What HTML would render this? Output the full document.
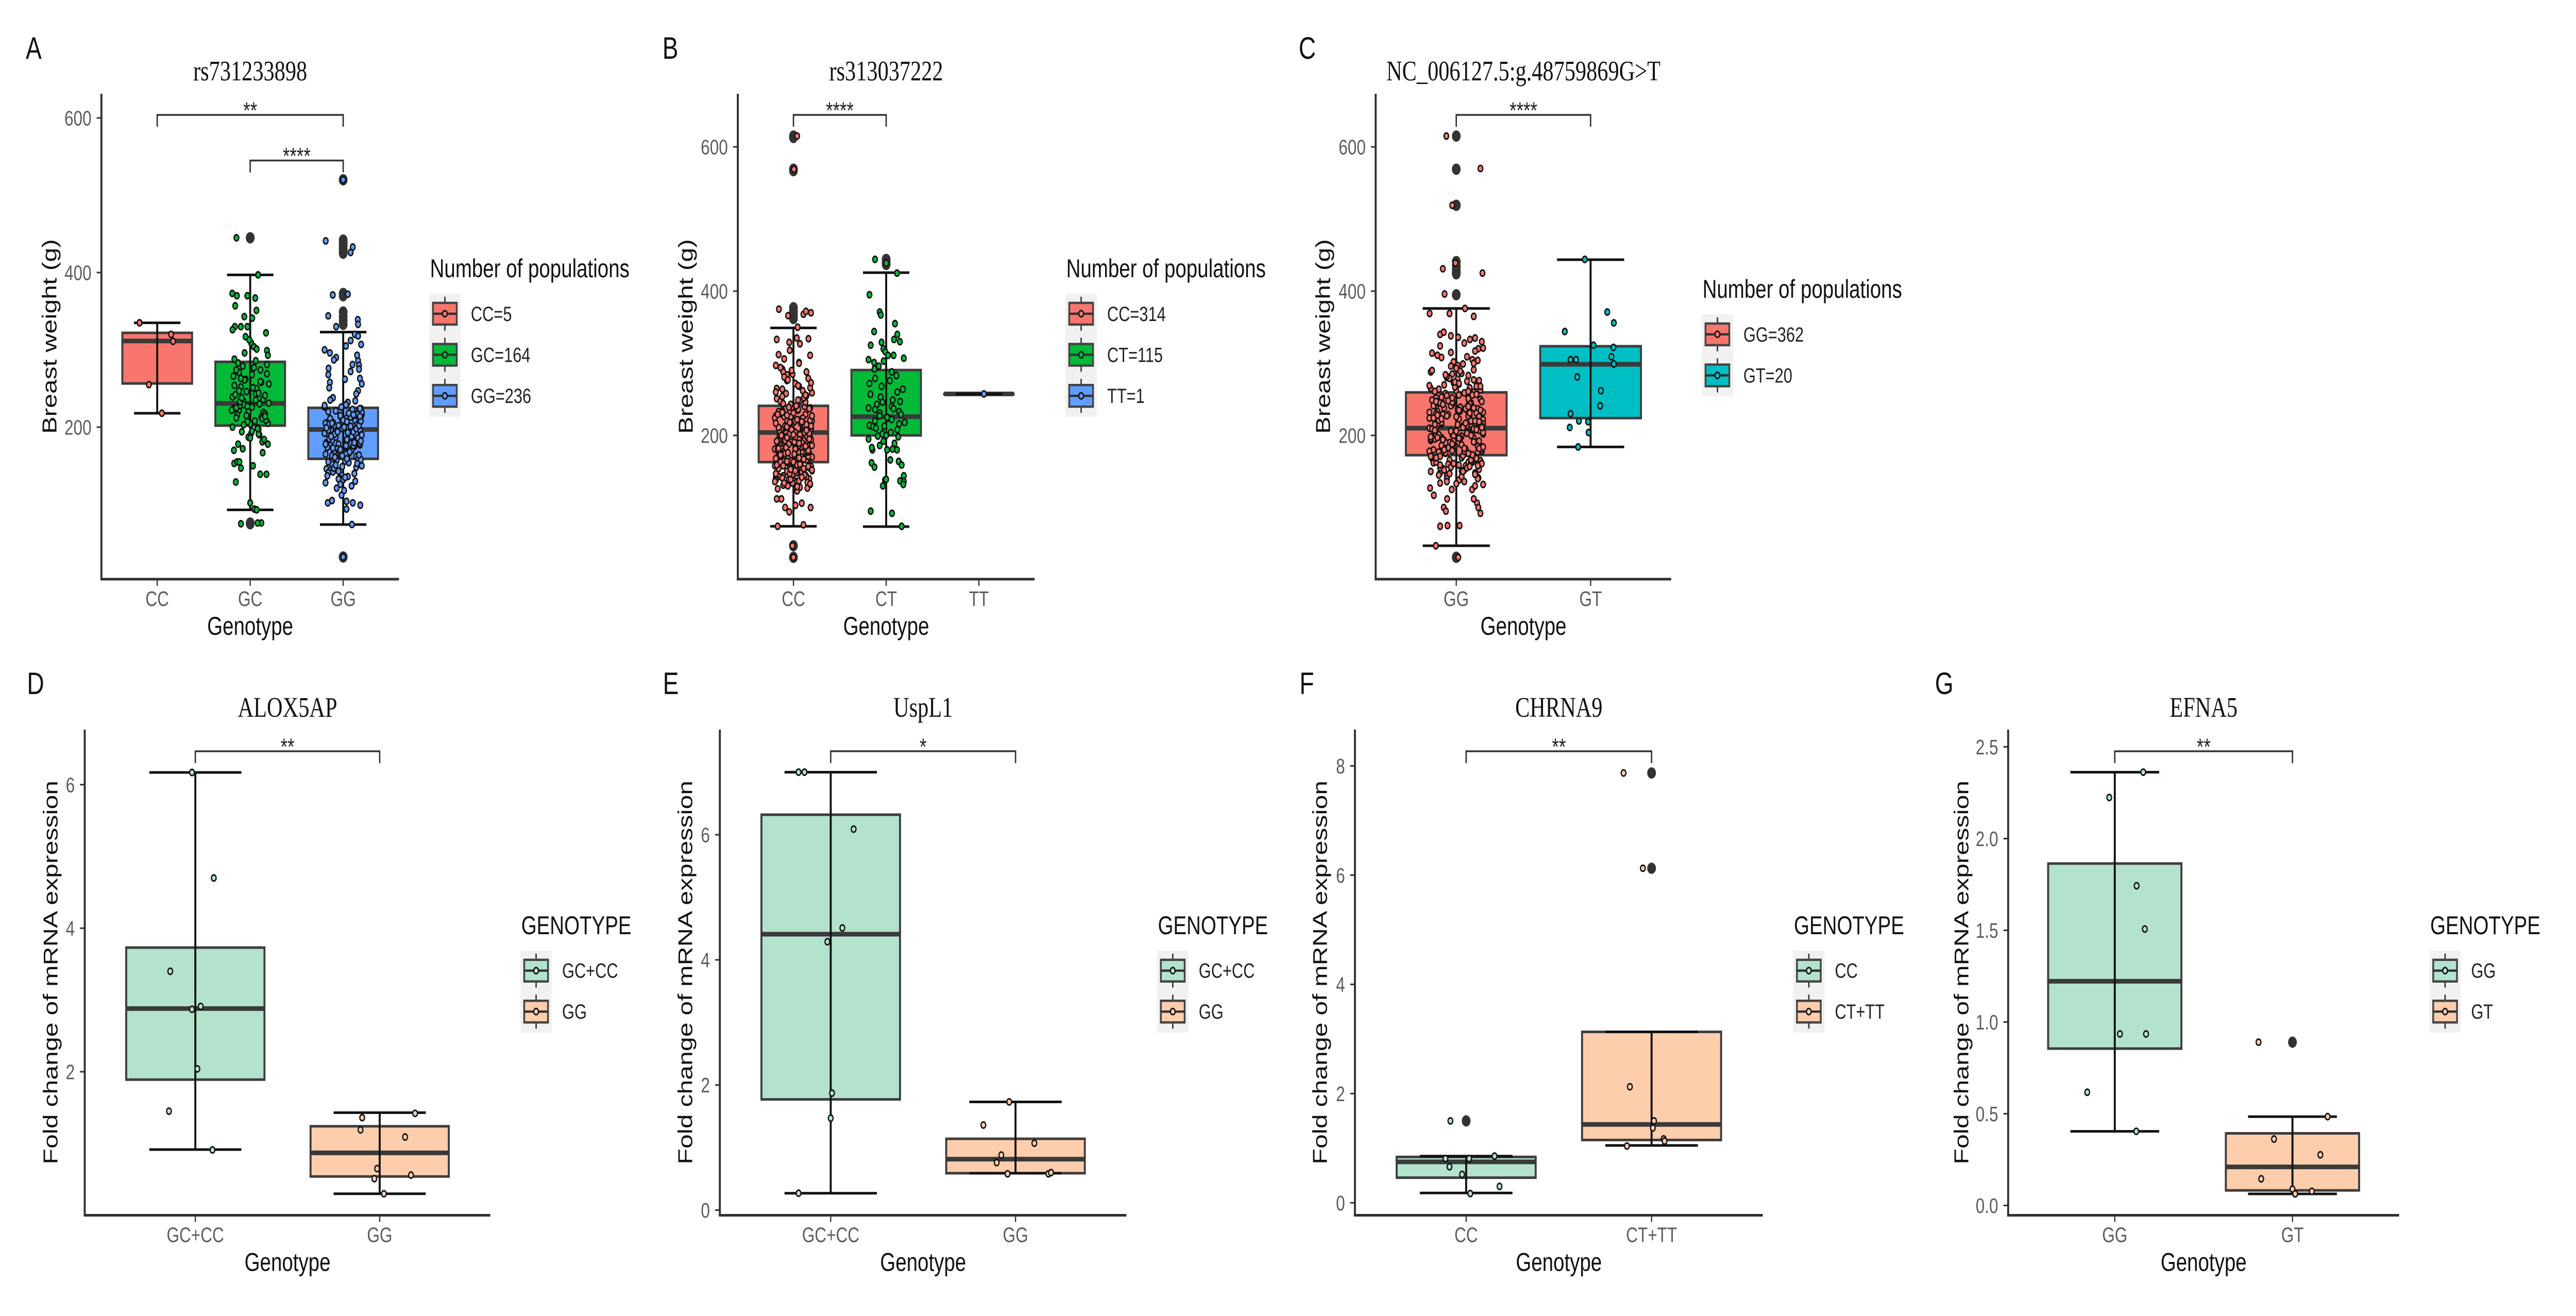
<!DOCTYPE html>
<html lang="en">
<head>
<meta charset="utf-8">
<title>Genotype association box plots</title>
<style>
html,body{margin:0;padding:0;background:#fff;width:100%;height:100%;overflow:hidden}
svg{display:block;width:100vw;height:100vh;font-family:"Liberation Sans",sans-serif}
</style>
</head>
<body>
<svg id="figure" xmlns="http://www.w3.org/2000/svg" viewBox="0 0 6494 2554" preserveAspectRatio="none">
<rect x="0" y="0" width="6494" height="2554" fill="#ffffff"/>
</svg>
<script>
/* shared jitter pool: horizontal jitter in category units for dense clouds */
const jitterPool=[.13,-.07,.19,-.16,.02,.11,-.19,.06,-.03,.17,-.12,.09,-.05,.2,-.15,.01,.14,-.09,.04,-.18,.16,-.01,-.14,.08,.18,-.11,.03,-.06,.12,-.2,.07,-.02,.15,-.17,.05,-.1,.19,-.04,.1,-.13,0,.17,-.08,.13,-.16,.06,-.19,.02,.11,-.03,.2,-.12,.09,-.15,.04,-.07,.16,-.18,.01,.14,-.05,.08,-.11,.18,-.02,-.14,.12,-.09,.05,-.17,.15,.03,-.06,.1,-.2,.07,-.13,.19,-.04,0,.17,-.1,.13,-.16,.06,-.08,.11,-.19,.02,.2,-.12,.09,-.03,.14,-.15,.04,-.07,.18,-.01,.16,-.11];

/* Panel A: rs731233898 */
const aCategories=['CC','GC','GG'];
const aYTicks=[200,400,600];
const aYTickLabels=['200','400','600'];
const aQ1=[256.5,202,159];
const aMedian=[311.5,230.7,197];
const aQ3=[322,284.5,225];
const aWhiskerLow=[218,93,74];
const aWhiskerHigh=[335,397,323];
const aOutliers=[[],[445,445,76,75],[520,520,442,438,435,431,428,425,373,370,349,343,338,333,32,32]];
const aLegendLabels=['CC=5','GC=164','GG=236'];
const aJitter=[
[-.19,.15,.17,-.09,.05],
[-.148,.085,-.193,-.143,-.031,.054,-.161,.067,-.063,.022,-.165,-.03,-.1,-.172,-.14,.134,-.175,-.116,.03,.108,-.1,.175,-.155,.0,.045,.07,.12,-.1,.08,.19],
[0,-.188,.103,.08,.05,-.112,-.161,.157,.16,-.076,.125,.193,-.143,-.076,.16,.17,-.157,.08,-.143,.18,-.166,-.12,-.018,.036,.103,.184,.036,.094,0]
];
const aValuesCC=[335,320,311,255,218];
const aValuesGC=[445,397,373,370,370,367,357,351,343,341,330,330,330,153,155,167,170,155,150,139,147,139,129,102,94,93,76,75,76,178,
326,322,317,309,304,313,299,296,301,288,293,283,279,286,274,271,277,266,262,269,258,254,261,250,246,252,243,239,247,236,233,241,229,226,235,222,231,219,224,216,228,213,220,208,215,204,211,200,207,197,203,192,199,187,194,183,190,178,186,181,172,
268,244,212,281,233,205,259,227,191,274,238,217,198,251,222,184,263,230,209,242,195,256,225,214];
const aValuesGG=[520,441,433,426,372,371,344,339,333,330,320,307,296,290,286,280,276,272,258,263,102,105,112,104,102,99,94,74,32,
318,312,305,300,293,287,281,275,268,262,256,251,247,243,238,235,232,229,226,224,222,220,218,216,214,212,210,208,207,205,204,202,201,199,198,196,195,193,192,190,189,187,186,184,183,181,180,178,177,175,174,172,171,169,168,166,165,163,162,160,159,157,156,154,152,150,148,146,144,142,140,138,136,134,132,130,128,126,124,121,118,
213,226,191,203,174,197,209,182,221,167,188,200,179,206,158,194,215,170,185,161,217,201,176,192,153,147,223,164,141,135,
219,204,186,198,173,211,193,165,228,182,202,155,216,190,171,207,149,234,196,178,212,143,200,184,163,224,194,168,137,208,188,151,218,176,205,159,199,133,214,180];

/* Panel B: rs313037222 */
const bCategories=['CC','CT','TT'];
const bYTicks=[200,400,600];
const bYTickLabels=['200','400','600'];
const bQ1=[163,200,257.5];
const bMedian=[204,226,257.5];
const bQ3=[241,290.6,257.5];
const bWhiskerLow=[74,73.6,257.5];
const bWhiskerHigh=[349,425.6,257.5];
const bOutliers=[[615,613,569,567,377,372,368,362,47,31,31],[444,440,437],[]];
const bLegendLabels=['CC=314','CT=115','TT=1'];
const bJitter=[
[.04,.005,-.157,.108,.135,.189,-.058,.045,-.18,.162,.036,-.045,-.16,.18,-.18,-.13,-.09,-.045,.09,.185,.022,-.17,.108,-.01,0],
[-.12,0,.117,-.18,-.07,-.058,.095,-.13,.12,.085,.148,-.167,-.05,-.03,-.01,.08,.02,-.19,.19,-.126,-.027,-.148,-.155,.01,.068,.117,.045,.135,.167,-.158,-.126,-.013,-.036,0,.19,.15,.19,.185,-.167,.063,.167],
[.054]
];
const bValuesCC=[615,569,375,368,372,370,366,350,333,334,335,329,312,311,112,112,100,94,106,100,103,74,76,47,31,
327,318,306,301,297,292,288,284,279,276,272,268,264,259,255,251,247,244,240,238,235,233,231,229,227,225,223,221,219,217,215,213,211,209,208,206,205,203,202,200,199,197,196,194,193,191,190,188,187,185,184,182,181,179,178,176,175,173,172,170,169,167,166,164,163,161,160,158,157,155,154,152,151,149,148,146,145,143,142,140,139,137,136,134,132,130,128,126,
216,230,198,186,207,174,222,192,161,238,210,180,168,201,155,226,194,147,234,183,212,171,150,204,189,141,220,177,159,196,144,214,165,236,202,153,184,138,218,170,228,191,156,208,175,135,224,199,163,246,258,181,149,205,266,
288,273,252,243,219,206,193,177,162,148,136,127,281,262,237,211,198,186,171,157,143,131,294,269,241,224,209,195,182,167,152,139,123,285,256,233,217,203,188,174,159,146,133,277,248,229,213,200,183,169,154,141,129,265,239,221,204,190,176,160,147,134,300,260,232,215,197,179,164,151,137,254,227,207,192,173,158,145,290,249,218,201,185,168,153,142];
const bValuesCT=[444,439,425,395,371,367,355,344,340,333,330,325,329,320,316,311,311,305,307,292,303,180,183,180,181,180,166,164,159,162,156,138,130,139,144,137,136,132,95,92,74,
301,296,288,283,279,276,272,268,264,260,257,253,249,246,243,240,238,236,233,231,229,227,224,222,220,218,216,214,212,210,208,206,204,202,200,198,195,192,189,186,225,237,213,199,247];
const bValuesTT=[257.5];

/* Panel C: NC_006127.5:g.48759869G>T */
const cCategories=['GG','GT'];
const cYTicks=[200,400,600];
const cYTickLabels=['200','400','600'];
const cQ1=[172.6,224];
const cMedian=[210,298.6];
const cQ3=[259.6,323.6];
const cWhiskerLow=[47,184];
const cWhiskerHigh=[376,443.6];
const cOutliers=[[615,569,519,519,441,435,430,426,424,395,31,31],[]];
const cLegendLabels=['GG=362','GT=20'];
const cJitter=[
[-.074,.18,-.03,-.1,.195,-.006,-.087,.065,-.198,-.05,.13,-.12,-.093,-.04,.015,.102,.14,.19,.164,.13,.155,.164,.18,-.068,-.093,-.077,-.12,-.065,.025,-.152,.015,-.167,-.195,-.034,.118,.165],
[-.192,.124,.173,.022,.17,.155,.173,-.149,-.108,-.099,.077,.071,-.149,-.087,-.019,-.155,-.015,-.093,-.043]
];
const cValuesGG=[615,570,519,431,425,439,396,376,369,369,365,340,343,338,336,333,335,330,320,112,106,100,92,112,100,95,74,75,75,47,31,117,127,125,125,141,
328,324,321,317,314,311,308,305,302,299,296,293,291,288,285,283,280,278,275,273,270,268,266,264,262,260,258,256,254,252,250,248,247,245,243,242,240,238,237,235,234,232,231,229,228,226,225,223,222,220,219,217,216,214,213,211,210,208,207,205,204,202,201,199,198,196,195,193,192,190,189,187,186,184,183,181,180,178,177,175,174,172,171,169,168,166,165,163,162,160,158,156,154,152,150,148,146,144,142,140,138,136,134,132,130,
249,233,218,203,188,172,241,226,209,195,179,163,255,236,214,199,183,167,244,221,206,191,176,159,251,230,212,197,181,164,246,227,210,193,177,155,239,224,208,194,174,153,261,235,216,200,185,170,253,228,211,196,178,161,276,243,220,204,187,151,267,238,215,198,182,147,
297,286,274,263,248,237,224,213,201,190,178,166,155,143,290,279,268,256,241,229,217,206,194,182,171,159,148,136,304,282,271,259,245,232,220,209,197,186,173,161,150,315,293,277,265,252,240,227,215,203,192,180,168,157,145,133,300,284,272,261,247,235,223,211,200,188,175,163,152,140,309,289,269,257,243,231,219,207,196,184,169,158,146];
const cValuesGT=[344,371,356,325,322,309,299,305,305,281,262,241,230,220,219,211,204,184,444];

/* Panel D: ALOX5AP */
const dCategories=['GC+CC','GG'];
const dYTicks=[2,4,6];
const dYTickLabels=['2','4','6'];
const dQ1=[1.89,.54];
const dMedian=[2.88,.87];
const dQ3=[3.73,1.24];
const dWhiskerLow=[.915,.30];
const dWhiskerHigh=[6.17,1.43];
const dOutliers=[[],[]];
const dLegendLabels=['GC+CC','GG'];
const dJitter=[[-.018,.1,-.136,-.018,.029,.011,-.143,.093],[.192,-.095,-.104,.138,-.014,.17,-.029,.023]];
const dValuesA=[6.17,4.70,3.40,2.87,2.91,2.04,1.45,.91];
const dValuesB=[1.42,1.36,1.19,1.09,.65,.56,.51,.30];

/* Panel E: UspL1 */
const eCategories=['GC+CC','GG'];
const eYTicks=[0,2,4,6];
const eYTickLabels=['0','2','4','6'];
const eQ1=[1.77,.59];
const eMedian=[4.41,.815];
const eQ3=[6.32,1.14];
const eWhiskerLow=[.27,.59];
const eWhiskerHigh=[7.0,1.73];
const eOutliers=[[],[]];
const eLegendLabels=['GC+CC','GG'];
const eJitter=[[-.174,-.142,.124,.063,-.018,.007,0,-.174],[-.034,-.174,.102,-.077,-.102,-.043,.178,.192]];
const eValuesA=[7.0,7.0,6.09,4.51,4.29,1.87,1.47,.27];
const eValuesB=[1.73,1.36,1.07,.88,.76,.58,.58,.60];

/* Panel F: CHRNA9 */
const fCategories=['CC','CT+TT'];
const fYTicks=[0,2,4,6,8];
const fYTickLabels=['0','2','4','6','8'];
const fQ1=[.46,1.15];
const fMedian=[.75,1.435];
const fQ3=[.84,3.13];
const fWhiskerLow=[.18,1.05];
const fWhiskerHigh=[.855,3.13];
const fOutliers=[[1.5],[7.87,6.125]];
const fLegendLabels=['CC','CT+TT'];
const fJitter=[[-.085,-.112,.016,.153,-.09,-.022,.18,.022],[-.151,-.047,-.117,.013,.007,.065,.07,-.133]];
const fValuesA=[1.5,.81,.81,.855,.66,.52,.30,.17];
const fValuesB=[7.87,6.125,2.125,1.5,1.37,1.17,1.13,1.04];

/* Panel G: EFNA5 */
const gCategories=['GG','GT'];
const gYTicks=[0,.5,1,1.5,2,2.5];
const gYTickLabels=['0.0','0.5','1.0','1.5','2.0','2.5'];
const gQ1=[.855,.082];
const gMedian=[1.222,.21];
const gQ3=[1.864,.393];
const gWhiskerLow=[.404,.063];
const gWhiskerHigh=[2.362,.484];
const gOutliers=[[],[.89]];
const gLegendLabels=['GG','GT'];
const gJitter=[[.16,-.031,.123,.169,.029,.176,-.155,.121],[-.191,.198,-.104,.157,-.176,0,.109,.015]];
const gValuesA=[2.362,2.224,1.743,1.507,.935,.935,.617,.404];
const gValuesB=[.89,.484,.362,.276,.145,.089,.077,.063];

const NS='http://www.w3.org/2000/svg';
const figure=document.getElementById('figure');
const INK='#2f2f2f';

function mk(tag,attrs,parent){
  const el=document.createElementNS(NS,tag);
  for(const k in attrs){el.setAttribute(k,attrs[k]);}
  parent.appendChild(el);
  return el;
}
function lbl(parent,str,x,y,size,fill,anchor,rot,family){
  const attrs={x:x,y:y,'font-size':size,fill:fill,'text-anchor':anchor||'start'};
  if(rot){attrs.transform='rotate(-90 '+x+' '+y+')';}
  if(family){attrs['font-family']=family;}
  const t=mk('text',attrs,parent);
  t.textContent=str;
  return t;
}
function makeYScale(domain,top,bottom){
  return function(v){return bottom-(v-domain[0])/(domain[1]-domain[0])*(bottom-top);};
}
function makeXScale(n,left,right){
  const step=(right-left)/(n-1+1.2);
  const fn=function(i){return left+.6*step+i*step;};
  fn.step=step;
  return fn;
}

function drawPanel(p){
  const g=mk('g',{},figure);
  
  
  const y=makeYScale(p.yDomain,p.top,p.bottom);
  const x=makeXScale(p.categories.length,p.left,p.right);
  const mid=(p.left+p.right)/2;

  const letter=lbl(g,p.letter,p.letterX,p.letterY,60,'#111');
  
  

  const title=lbl(g,p.title,mid,p.titleY,55,'#111','middle',false,'"Liberation Serif",serif');
  
  

  /* boxes, outliers, whiskers, points */
  p.categories.forEach(function(cat,i){
    const cx=x(i),hb=.375*x.step,hc=.25*x.step;
    const group=mk('g',{},g);
    
    

    const box=mk('rect',{x:cx-hb,y:y(p.q3[i]),width:2*hb,height:Math.max(y(p.q1[i])-y(p.q3[i]),.5),fill:p.colors[i],stroke:'#3d3d3d','stroke-width':5},group);
    
    

    const med=mk('line',{x1:cx-hb,x2:cx+hb,y1:y(p.median[i]),y2:y(p.median[i]),stroke:'#3a3a3a','stroke-width':9},group);
    
    

    p.outliers[i].forEach(function(v){
      const o=mk('circle',{cx:cx,cy:y(v),r:11,fill:'#333333'},group);
      
      
    });

    const stem=mk('line',{x1:cx,x2:cx,y1:y(p.whiskerHigh[i]),y2:y(p.whiskerLow[i]),stroke:'#111','stroke-width':5},group);
    
    

    const capHigh=mk('line',{x1:cx-hc,x2:cx+hc,y1:y(p.whiskerHigh[i]),y2:y(p.whiskerHigh[i]),stroke:'#111','stroke-width':5},group);
    
    

    const capLow=mk('line',{x1:cx-hc,x2:cx+hc,y1:y(p.whiskerLow[i]),y2:y(p.whiskerLow[i]),stroke:'#111','stroke-width':5},group);
    
    

    const jit=p.jitter[i];
    p.points[i].forEach(function(v,k){
      const j=k<jit.length?jit[k]:jitterPool[(k*3+i*17)%jitterPool.length];
      const c=mk('circle',{cx:cx+j*x.step,cy:y(v),r:6,fill:p.colors[i],stroke:'#111','stroke-width':3},group);
      
      
    });
  });

  /* axes */
  const yAxis=mk('line',{x1:p.left,x2:p.left,y1:p.top,y2:p.bottom+2.5,stroke:INK,'stroke-width':5},g);
  
  

  const xAxis=mk('line',{x1:p.left-2.5,x2:p.right,y1:p.bottom,y2:p.bottom,stroke:INK,'stroke-width':5},g);
  
  

  p.yTicks.forEach(function(v,i){
    const t=mk('line',{x1:p.left-12,x2:p.left,y1:y(v),y2:y(v),stroke:INK,'stroke-width':3},g);
    
    
    const l=lbl(g,p.yTickLabels[i],p.left-25,y(v)+14.5,41,'#5c5c5c','end');
    
    
  });
  p.categories.forEach(function(cat,i){
    const t=mk('line',{x1:x(i),x2:x(i),y1:p.bottom,y2:p.bottom+13,stroke:INK,'stroke-width':3},g);
    
    
    const l=lbl(g,cat,x(i),p.bottom+52,41,'#5c5c5c','middle');
    
    
  });

  const yTitle=lbl(g,p.yTitle,p.yTitleX,(p.top+p.bottom)/2,50,'#111','middle',true);
  
  

  const xTitle=lbl(g,'Genotype',mid,p.bottom+108,50,'#111','middle');
  
  

  /* significance brackets */
  p.brackets.forEach(function(b){
    const bx1=x(b.from),bx2=x(b.to),by=y(b.value);
    const path=mk('path',{d:'M'+bx1+' '+(by+23)+'V'+by+'H'+bx2+'V'+(by+23),fill:'none',stroke:'#333','stroke-width':3.5},g);
    
    
    const s=lbl(g,b.label,(bx1+bx2)/2,by+7,45,'#222','middle');
    
    
  });

  /* legend */
  const lg=mk('g',{},g);
  
  
  const lt=lbl(lg,p.legendTitle,p.legendX+2,p.legendTop-32,50,'#111');
  
  
  p.legendLabels.forEach(function(label,i){
    const top=p.legendTop+i*p.legendRow,cx=p.legendX+39.5,cy=top+p.legendRow/2-1;
    const entry=mk('g',{},lg);
    
    
    const bg=mk('rect',{x:p.legendX,y:top,width:79,height:p.legendRow,fill:'#f1f1f1'},entry);
    
    
    const st=mk('line',{x1:cx,x2:cx,y1:cy-33,y2:cy+33,stroke:'#333','stroke-width':3.5},entry);
    
    
    const bx=mk('rect',{x:cx-30,y:cy-21,width:60,height:42,fill:p.colors[i],stroke:'#444','stroke-width':4.5},entry);
    
    
    const ml=mk('line',{x1:cx-30,x2:cx+30,y1:cy,y2:cy,stroke:'#333','stroke-width':4.5},entry);
    
    
    const dot=mk('circle',{cx:cx,cy:cy,r:6,fill:p.colors[i],stroke:'#111','stroke-width':3},entry);
    
    
    const tx=lbl(entry,label,p.legendX+105,cy+14,40,'#222');
    
    
  });
}

const RED='#F8766D',GREEN='#00BA38',BLUE='#619CFF',TEAL='#00BFC4',MINT='#B3E2CD',PEACH='#FDCDAC';

drawPanel({name:'panel-a',letter:'A',letterX:65,letterY:114,title:'rs731233898',titleY:156,left:255.7,right:1005.8,top:182,bottom:1124,yDomain:[3.33,631.3],yTitle:'Breast weight (g)',yTitleX:142,
  categories:aCategories,yTicks:aYTicks,yTickLabels:aYTickLabels,q1:aQ1,median:aMedian,q3:aQ3,whiskerLow:aWhiskerLow,whiskerHigh:aWhiskerHigh,outliers:aOutliers,jitter:aJitter,points:[aValuesCC,aValuesGC,aValuesGG],colors:[RED,GREEN,BLUE],
  brackets:[{from:0,to:2,label:'**',value:604},{from:1,to:2,label:'****',value:545}],
  legendTitle:'Number of populations',legendLabels:aLegendLabels,legendX:1082,legendTop:570,legendRow:79.7});

drawPanel({name:'panel-b',letter:'B',letterX:1670,letterY:114,title:'rs313037222',titleY:156,left:1860,right:2608,top:182,bottom:1124,yDomain:[.7,673.6],yTitle:'Breast weight (g)',yTitleX:1746,
  categories:bCategories,yTicks:bYTicks,yTickLabels:bYTickLabels,q1:bQ1,median:bMedian,q3:bQ3,whiskerLow:bWhiskerLow,whiskerHigh:bWhiskerHigh,outliers:bOutliers,jitter:bJitter,points:[bValuesCC,bValuesCT,bValuesTT],colors:[RED,GREEN,BLUE],
  brackets:[{from:0,to:1,label:'****',value:644.3}],
  legendTitle:'Number of populations',legendLabels:bLegendLabels,legendX:2686,legendTop:570,legendRow:79.7});

drawPanel({name:'panel-c',letter:'C',letterX:3274,letterY:114,title:'NC_006127.5:g.48759869G>T',titleY:156,left:3468,right:4213,top:182,bottom:1124,yDomain:[.7,673.6],yTitle:'Breast weight (g)',yTitleX:3353,
  categories:cCategories,yTicks:cYTicks,yTickLabels:cYTickLabels,q1:cQ1,median:cMedian,q3:cQ3,whiskerLow:cWhiskerLow,whiskerHigh:cWhiskerHigh,outliers:cOutliers,jitter:cJitter,points:[cValuesGG,cValuesGT],colors:[RED,TEAL],
  brackets:[{from:0,to:1,label:'****',value:644.3}],
  legendTitle:'Number of populations',legendLabels:cLegendLabels,legendX:4290,legendTop:610,legendRow:79.7});

drawPanel({name:'panel-d',letter:'D',letterX:68,letterY:1347,title:'ALOX5AP',titleY:1391,left:213.6,right:1236,top:1416,bottom:2358.5,yDomain:[0,6.767],yTitle:'Fold change of mRNA expression',yTitleX:145,
  categories:dCategories,yTicks:dYTicks,yTickLabels:dYTickLabels,q1:dQ1,median:dMedian,q3:dQ3,whiskerLow:dWhiskerLow,whiskerHigh:dWhiskerHigh,outliers:dOutliers,jitter:dJitter,points:[dValuesA,dValuesB],colors:[MINT,PEACH],
  brackets:[{from:0,to:1,label:'**',value:6.465}],
  legendTitle:'GENOTYPE',legendLabels:dLegendLabels,legendX:1312,legendTop:1845,legendRow:79.5});

drawPanel({name:'panel-e',letter:'E',letterX:1671,letterY:1347,title:'UspL1',titleY:1391,left:1814.7,right:2839.6,top:1416,bottom:2358.5,yDomain:[-.082,7.68],yTitle:'Fold change of mRNA expression',yTitleX:1745,
  categories:eCategories,yTicks:eYTicks,yTickLabels:eYTickLabels,q1:eQ1,median:eMedian,q3:eQ3,whiskerLow:eWhiskerLow,whiskerHigh:eWhiskerHigh,outliers:eOutliers,jitter:eJitter,points:[eValuesA,eValuesB],colors:[MINT,PEACH],
  brackets:[{from:0,to:1,label:'*',value:7.335}],
  legendTitle:'GENOTYPE',legendLabels:eLegendLabels,legendX:2917,legendTop:1845,legendRow:79.5});

drawPanel({name:'panel-f',letter:'F',letterX:3276,letterY:1347,title:'CHRNA9',titleY:1391,left:3415.7,right:4444,top:1416,bottom:2358.5,yDomain:[-.228,8.664],yTitle:'Fold change of mRNA expression',yTitleX:3345,
  categories:fCategories,yTicks:fYTicks,yTickLabels:fYTickLabels,q1:fQ1,median:fMedian,q3:fQ3,whiskerLow:fWhiskerLow,whiskerHigh:fWhiskerHigh,outliers:fOutliers,jitter:fJitter,points:[fValuesA,fValuesB],colors:[MINT,PEACH],
  brackets:[{from:0,to:1,label:'**',value:8.268}],
  legendTitle:'GENOTYPE',legendLabels:fLegendLabels,legendX:4520.5,legendTop:1845,legendRow:79.5});

drawPanel({name:'panel-g',letter:'G',letterX:4878,letterY:1347,title:'EFNA5',titleY:1391,left:5062.5,right:6048,top:1416,bottom:2358.5,yDomain:[-.0536,2.594],yTitle:'Fold change of mRNA expression',yTitleX:4962,
  categories:gCategories,yTicks:gYTicks,yTickLabels:gYTickLabels,q1:gQ1,median:gMedian,q3:gQ3,whiskerLow:gWhiskerLow,whiskerHigh:gWhiskerHigh,outliers:gOutliers,jitter:gJitter,points:[gValuesA,gValuesB],colors:[MINT,PEACH],
  brackets:[{from:0,to:1,label:'**',value:2.476}],
  legendTitle:'GENOTYPE',legendLabels:gLegendLabels,legendX:6124.5,legendTop:1845,legendRow:79.5});
</script>
</body>
</html>
